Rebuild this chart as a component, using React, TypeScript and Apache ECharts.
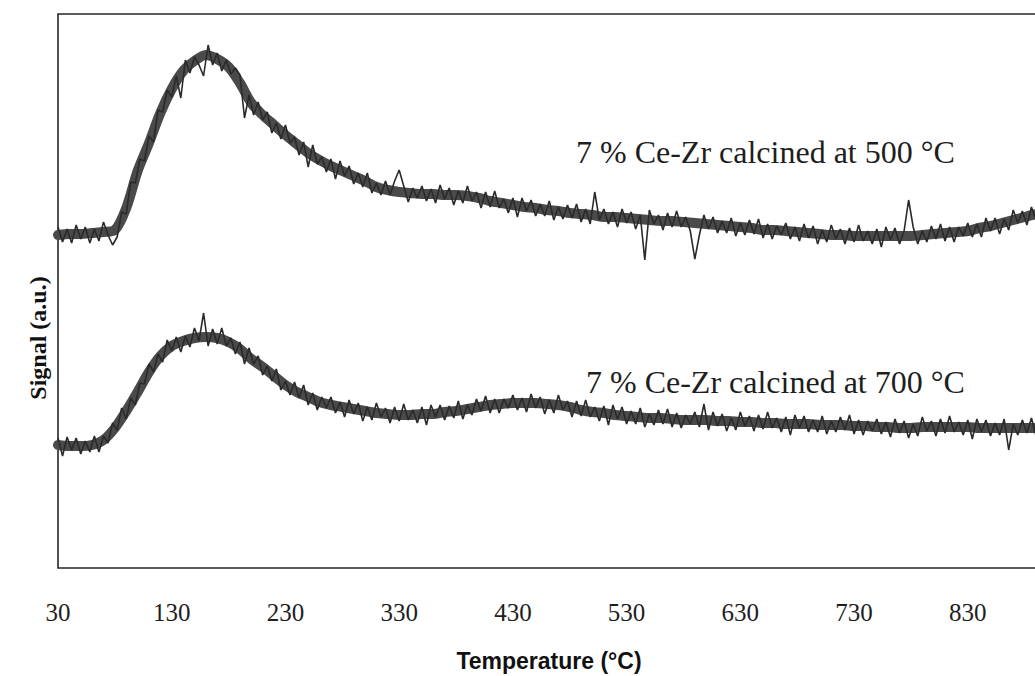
import React, { useEffect, useRef } from "react";
import * as echarts from "echarts";

// Sampling grids of the traces (°C)
const TEMP_START = 30;
const NOISY_STEP = 4;
const MEAN_STEP = 10;

// x-axis tick labels
const X_TICKS = ["30", "130", "230", "330", "430", "530", "630", "730", "830"];

// Series names
const SERIES_NAMES = ["7 % Ce-Zr calcined at 500 °C", "7 % Ce-Zr calcined at 700 °C"];

// Signal (a.u.), Ce-Zr calcined at 500 °C, raw trace, one value every 4 °C from 30 °C
const SIGNAL_500 = [
  341, 326, 339, 325, 343, 329, 341, 325, 339, 327,
  346, 333, 323, 331, 356, 354, 386, 385, 409, 407,
  432, 426, 458, 456, 478, 471, 492, 470, 508, 495,
  511, 503, 492, 523, 503, 515, 497, 508, 494, 500,
  493, 450, 473, 453, 466, 448, 456, 435, 445, 429,
  443, 425, 431, 413, 426, 401, 423, 404, 411, 396,
  409, 389, 407, 392, 402, 384, 395, 381, 395, 375,
  385, 373, 387, 373, 387, 398, 382, 366, 380, 370,
  382, 367, 379, 365, 383, 369, 380, 363, 377, 365,
  382, 367, 376, 360, 376, 361, 377, 360, 369, 355,
  370, 351, 370, 357, 368, 352, 364, 352, 367, 348,
  361, 349, 363, 350, 364, 346, 359, 344, 376, 348,
  359, 344, 356, 341, 359, 345, 356, 339, 353, 308,
  358, 344, 353, 338, 355, 341, 357, 341, 351, 337,
  309, 333, 353, 339, 351, 335, 347, 335, 350, 332,
  345, 333, 348, 334, 349, 330, 344, 329, 342, 333,
  345, 329, 341, 327, 344, 330, 342, 324, 338, 326,
  343, 329, 339, 324, 340, 326, 343, 327, 337, 324,
  339, 321, 341, 328, 340, 324, 337, 368, 341, 324,
  337, 326, 342, 329, 344, 327, 341, 326, 341, 332,
  345, 331, 344, 331, 350, 337, 350, 334, 349, 338,
  358, 345, 357, 343, 361, 348,
];

// Signal (a.u.), Ce-Zr calcined at 700 °C, raw trace, one value every 4 °C from 30 °C
const SIGNAL_700 = [
  130, 112, 131, 118, 130, 114, 127, 116, 132, 116,
  132, 125, 145, 138, 160, 149, 170, 163, 185, 184,
  204, 196, 214, 206, 228, 217, 231, 216, 232, 221,
  240, 227, 255, 222, 239, 224, 240, 222, 230, 214,
  226, 204, 220, 204, 212, 193, 202, 187, 199, 178,
  187, 173, 186, 170, 183, 163, 175, 158, 171, 160,
  171, 155, 166, 151, 168, 154, 165, 147, 161, 148,
  165, 151, 160, 145, 161, 147, 164, 148, 158, 145,
  161, 143, 163, 151, 163, 148, 162, 150, 167, 149,
  163, 153, 169, 157, 172, 155, 169, 155, 169, 160,
  173, 158, 170, 156, 174, 160, 171, 154, 168, 155,
  173, 158, 167, 151, 167, 152, 168, 151, 161, 147,
  162, 143, 163, 149, 161, 144, 157, 144, 160, 141,
  154, 143, 158, 144, 159, 141, 155, 140, 153, 144,
  156, 141, 164, 138, 156, 142, 154, 137, 150, 138,
  156, 142, 152, 137, 153, 139, 156, 140, 150, 136,
  151, 133, 153, 140, 152, 136, 148, 136, 152, 134,
  147, 136, 151, 138, 153, 134, 148, 133, 147, 137,
  149, 134, 146, 131, 149, 135, 147, 130, 144, 132,
  151, 137, 147, 132, 149, 135, 152, 136, 146, 133,
  148, 129, 149, 136, 148, 132, 145, 133, 149, 118,
  144, 133, 148, 135, 150, 132,
];

// Centre of the noisy band (a.u.), one value every 10 °C from 30 °C
const BAND_500 = [
  333, 334, 334, 335, 336, 338, 360,
  397, 425, 455, 479, 497, 507, 513, 509, 501, 485,
  465, 453, 443, 433, 424, 415, 408, 402, 397, 392,
  387, 381, 378, 376, 375, 374, 374, 373, 373, 372,
  370, 367, 365, 363, 361, 360, 358, 357, 355, 354,
  353, 351, 351, 350, 349, 348, 347, 347, 346, 345,
  344, 343, 342, 341, 340, 338, 338, 337, 336, 335,
  334, 333, 333, 332, 332, 332, 332, 332, 332, 333,
  334, 335, 336, 337, 340, 342, 345, 348, 351, 354,
];

const BAND_700 = [
  123, 122, 122, 123, 128, 140, 157,
  176, 196, 212, 222, 227, 230, 231, 230, 226, 219,
  209, 201, 192, 183, 176, 171, 166, 163, 161, 159,
  157, 155, 154, 153, 153, 154, 154, 156, 157, 159,
  161, 163, 164, 165, 165, 165, 164, 163, 161, 158,
  156, 155, 153, 152, 151, 150, 150, 149, 148, 148,
  148, 147, 147, 146, 146, 145, 145, 144, 144, 144,
  143, 143, 143, 142, 142, 141, 141, 140, 140, 141,
  141, 141, 141, 141, 140, 140, 140, 140, 140, 140,
];

const X_MIN = 30;
const X_MAX = 890;
const Y_MIN = 0;
const Y_MAX = 554;

const toPairs = (vals: number[], step: number) => vals.map((v, i) => [TEMP_START + i * step, v]);

export default function App() {
  const ref = useRef<HTMLDivElement>(null);

  useEffect(() => {
    if (!ref.current) return;
    const chart = echarts.init(ref.current, undefined, { renderer: "svg" });
    const serif = "'Liberation Serif', 'Times New Roman', serif";
    const bandStyle = { color: "#4a4a4a", width: 10, cap: "round", join: "round" };
    const noiseStyle = { color: "#2a2a2a", width: 1.6 };
    chart.setOption({
      animation: false,
      backgroundColor: "#ffffff",
      grid: {
        left: 58,
        right: 9,
        top: 14,
        bottom: 108,
        show: true,
        borderColor: "#262626",
        borderWidth: 1.6,
        backgroundColor: "transparent",
      },
      xAxis: {
        type: "value",
        min: X_MIN,
        max: X_MAX,
        interval: 100,
        axisLine: { show: false },
        axisTick: { show: false },
        splitLine: { show: false },
        axisLabel: {
          showMaxLabel: false,
          fontFamily: serif,
          fontSize: 25,
          color: "#1e1e1e",
          margin: 44,
          verticalAlign: "middle",
          formatter: (v: number) => (X_TICKS.includes(String(v)) ? String(v) : ""),
        },
      },
      yAxis: {
        type: "value",
        min: Y_MIN,
        max: Y_MAX,
        show: false,
        splitLine: { show: false },
      },
      series: [
        {
          name: SERIES_NAMES[0] + " band",
          type: "line",
          data: toPairs(BAND_500, MEAN_STEP),
          showSymbol: false,
          symbol: "none",
          smooth: 0.3,
          lineStyle: bandStyle,
          z: 2,
        },
        {
          name: SERIES_NAMES[0],
          type: "line",
          data: toPairs(SIGNAL_500, NOISY_STEP),
          showSymbol: false,
          symbol: "none",
          lineStyle: noiseStyle,
          z: 3,
        },
        {
          name: SERIES_NAMES[1] + " band",
          type: "line",
          data: toPairs(BAND_700, MEAN_STEP),
          showSymbol: false,
          symbol: "none",
          smooth: 0.3,
          lineStyle: bandStyle,
          z: 2,
        },
        {
          name: SERIES_NAMES[1],
          type: "line",
          data: toPairs(SIGNAL_700, NOISY_STEP),
          showSymbol: false,
          symbol: "none",
          lineStyle: noiseStyle,
          z: 3,
        },
      ],
      graphic: [
        {
          type: "text",
          left: 576,
          top: 136,
          z: 10,
          style: {
            text: SERIES_NAMES[0],
            fontFamily: serif,
            fontSize: 32,
            fill: "#1e1e1e",
          },
        },
        {
          type: "text",
          left: 586,
          top: 366,
          z: 10,
          style: {
            text: SERIES_NAMES[1],
            fontFamily: serif,
            fontSize: 32,
            fill: "#1e1e1e",
          },
        },
        {
          type: "text",
          x: 549,
          y: 661,
          style: {
            text: "Temperature (°C)",
            fontFamily: "'Liberation Sans', Arial, sans-serif",
            fontWeight: "bold",
            fontSize: 23,
            fill: "#111",
            align: "center",
            verticalAlign: "middle",
          },
        },
        {
          type: "text",
          x: 38,
          y: 338,
          rotation: Math.PI / 2,
          style: {
            text: "Signal (a.u.)",
            fontFamily: serif,
            fontWeight: "bold",
            fontSize: 24,
            fill: "#111",
            align: "center",
            verticalAlign: "middle",
          },
        },
      ],
    });
    return () => chart.dispose();
  }, []);

  return (
    <div
      style={{
        position: "fixed",
        left: 0,
        top: 0,
        width: 1035,
        height: 676,
        overflow: "hidden",
        background: "#fff",
      }}
    >
      <div ref={ref} style={{ width: 1045, height: 676 }} />
    </div>
  );
}
